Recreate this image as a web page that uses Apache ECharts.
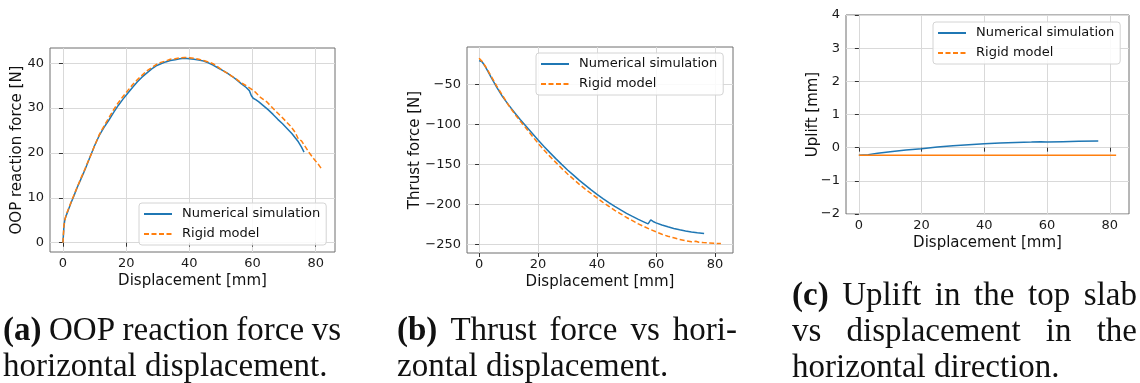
<!DOCTYPE html>
<html>
<head>
<meta charset="utf-8">
<script src="https://cdn.jsdelivr.net/npm/echarts@6/dist/echarts.min.js"></script>
<style>
html,body{margin:0;padding:0;background:#fff;}
#c{width:1140px;height:383px;}
</style>
</head>
<body>
<div id="c"></div>
<script>
// ---- Data ----
const seriesNames = ['Numerical simulation', 'Rigid model'];
const xTicks = [0, 20, 40, 60, 80];
const yTicksA = [0, 10, 20, 30, 40];
const yTicksB = [-250, -200, -150, -100, -50];

// (a) OOP reaction force [N] vs displacement [mm]
const numA_x = [0,0.3,0.6,1.0,1.6,2.5,3.5,4.5,5.5,6.5,7.5,8.5,10,11.5,13,14.5,16,17.5,19,20.5,22,23.5,25,26.5,28,29.5,31,32.5,34,35.5,37,38.5,40,41.5,43,44.5,46,47.5,49,50.5,52,53.5,55,56.5,58,59,59.6,60.2,61,62,63.5,65,66.5,68,69.5,71,72.5,73.5,74.5,75.5,76.3];
const numA_y = [0,3.5,5.2,6.0,7.1,8.8,10.5,12.3,13.9,15.5,17.2,19.0,21.6,23.9,25.7,27.3,29.0,30.6,32.0,33.3,34.6,35.8,36.9,37.8,38.7,39.4,39.9,40.3,40.6,40.8,41.0,41.1,41.0,40.9,40.7,40.5,40.1,39.6,39.0,38.4,37.8,37.1,36.3,35.4,34.6,33.9,32.8,32.2,31.9,31.4,30.5,29.6,28.6,27.5,26.5,25.4,24.3,23.4,22.5,21.3,20.2];
const rigA_x = [0,0.3,0.6,1,2,3,4,5,6,7,8,9,10,11.5,13,14.5,16,17.5,19,20.5,22,23.5,25,26.5,28,29.5,31,32.5,34,35.5,37,38.5,40,41.5,43,44.5,46,47.5,49,50.5,52,53.5,55,56.5,58,59.5,61,62.5,63.5,64.5,66,67.5,69,70.5,72,73.5,74.5,75.5,76.5,78,79.5,81,82];
const rigA_y = [0,3.8,5.0,6.2,8.0,9.8,11.5,13.2,14.9,16.5,18.2,19.8,21.6,24.1,26.0,27.8,29.6,31.2,32.6,33.9,35.2,36.3,37.3,38.3,39.0,39.7,40.2,40.5,40.9,41.0,41.2,41.3,41.2,41.1,40.9,40.6,40.3,39.9,39.2,38.4,37.8,37.1,36.4,35.6,35.0,34.3,33.5,32.4,31.9,31.4,30.3,29.2,28.2,27.1,26.0,24.6,23.1,22.7,21.6,20.0,18.6,17.3,16.3];

// (b) Thrust force [N] vs displacement [mm]
const numB_x = [0,0.5,1,2,3,4,5,6,7,8,9,10,12,14,16,18,20,22,24,26,28,30,32,34,36,38,40,42,44,46,48,50,52,54,56,57.3,57.8,58.2,58.6,59,60,62,64,66,68,70,72,74,76.3];
const numB_y = [-20,-19,-21.5,-27,-33.5,-40.5,-47,-53.5,-59.5,-65.5,-70.5,-75.5,-85,-94,-102.5,-111,-119.5,-127.5,-135.3,-142.8,-150,-157,-163.5,-170,-176,-182,-187.5,-192.8,-197.8,-202.6,-207,-211.3,-215.2,-218.9,-222.3,-224.5,-222,-219.5,-221,-221.5,-223.3,-225.9,-228.2,-230.2,-232,-233.5,-234.7,-235.7,-236.5];
const rigB_x = [0,0.5,1,2,3,4,5,6,7,8,9,10,12,14,16,18,20,22,24,26,28,30,32,34,36,38,40,42,44,46,48,50,52,54,56,58,60,62,64,66,68,70,72,73.5,74.5,76,78,80,82];
const rigB_y = [-17,-18.5,-21,-26.5,-32.5,-39,-45.5,-52,-58,-64,-70,-76,-86.5,-96,-105,-114.5,-123.5,-132,-140,-147.5,-155,-162,-168.5,-175,-181,-186.5,-192,-197.5,-202.5,-207.5,-212,-216.5,-220.5,-224.5,-228,-231.5,-234.5,-237.5,-240,-242,-244,-245.5,-247,-246.3,-247.5,-248,-248.5,-249,-249];

// (c) Uplift [mm] vs displacement [mm]
const numC_x = [0,3,6,10,15,20,25,30,35,40,45,50,55,58,58.6,60,65,70,76.3];
const numC_y = [-0.23,-0.21,-0.17,-0.12,-0.07,-0.03,0.02,0.06,0.09,0.12,0.14,0.155,0.17,0.18,0.16,0.17,0.18,0.19,0.2];
const rigC_x = [0,10,20,30,40,50,60,70,82];
const rigC_y = [-0.23,-0.23,-0.23,-0.23,-0.23,-0.23,-0.23,-0.23,-0.23];

// Caption text
const capA = ['(a) OOP reaction force vs', 'horizontal displacement.'];
const capB = ['(b) Thrust force vs hori-', 'zontal displacement.'];
const capC = ['(c) Uplift in the top slab', 'vs displacement in the', 'horizontal direction.'];

// ---- Build chart ----
const pair = (xs, ys) => xs.map((x, i) => [x, ys[i]]);
const BLUE = '#1f77b4', ORANGE = '#ff7f0e';
const TICKFONT = 'DejaVu Sans';
const minus = v => String(v).replace('-', '\u2212');

function xAxis(gi) {
  return {
    type: 'value', gridIndex: gi, min: -4.1, max: 86.1,
    name: 'Displacement [mm]', nameLocation: 'middle', nameGap: 22, nameMoveOverlap: false,
    nameTextStyle: {fontFamily: TICKFONT, fontSize: 15, color: '#111'},
    axisLine: {show: false},
    axisTick: {show: true, length: 4, lineStyle: {color: '#333'}, customValues: xTicks},
    axisLabel: {fontFamily: TICKFONT, fontSize: 13, color: '#1a1a1a', margin: 5, customValues: xTicks, formatter: minus},
    splitLine: {show: true, lineStyle: {color: '#d9d9d9', width: 1}}
  };
}
function yAxis(gi, name, min, max, ticks, gap) {
  const ax = {
    type: 'value', gridIndex: gi, min: min, max: max,
    name: name, nameLocation: 'middle', nameGap: gap, nameMoveOverlap: false,
    nameTextStyle: {fontFamily: TICKFONT, fontSize: 15, color: '#111'},
    axisLine: {show: false},
    axisTick: {show: true, length: 4, lineStyle: {color: '#333'}},
    axisLabel: {fontFamily: TICKFONT, fontSize: 13, color: '#1a1a1a', margin: 6, formatter: minus},
    splitLine: {show: true, lineStyle: {color: '#d9d9d9', width: 1}}
  };
  if (ticks) {
    ax.axisTick.customValues = ticks;
    ax.axisLabel.customValues = ticks;
  } else {
    ax.interval = 1;
  }
  return ax;
}
const gridStyle = {show: true, borderColor: '#6f6f6f', borderWidth: 1, backgroundColor: 'transparent', containLabel: false};
function legend(left, top) {
  return {
    data: seriesNames, orient: 'vertical', left: left, top: top,
    itemWidth: 28, itemHeight: 14, itemGap: 6,
    padding: [4, 6, 4, 4],
    backgroundColor: 'rgba(255,255,255,0.85)', borderColor: '#d4d4d4', borderWidth: 1, borderRadius: 3,
    selectedMode: false,
    itemStyle: {opacity: 0, color: 'rgba(0,0,0,0)', borderWidth: 0},
    textStyle: {fontFamily: TICKFONT, fontSize: 13, color: '#111', padding: [0, 0, 0, 5], lineHeight: 14}
  };
}
function line(name, data, gi, color, dashed) {
  return {
    name: name, type: 'line', xAxisIndex: gi, yAxisIndex: gi, data: data,
    symbol: 'none', showSymbol: false, smooth: false, z: dashed ? 3 : 2,
    lineStyle: {color: color, width: 1.5, type: dashed === true ? [5, 2.5] : 'solid'},
    itemStyle: {color: color}
  };
}

// ---- Caption layout (text set as real text; justified lines spread word by word) ----
const CAPFAMILY = '"Liberation Serif", "DejaVu Serif", serif';
const CAPSIZE = 33;
const mctx = document.createElement('canvas').getContext('2d');
function measure(word, bold) {
  mctx.font = (bold ? 'bold ' : '') + CAPSIZE + 'px ' + CAPFAMILY;
  return mctx.measureText(word).width;
}
function word(x, baseline, text, bold) {
  return {
    type: 'text', x: x, y: baseline - 25, silent: true,
    style: {text: text, fontFamily: CAPFAMILY, fontSize: CAPSIZE, fontWeight: bold ? 'bold' : 'normal', fill: '#111', align: 'left', verticalAlign: 'top'}
  };
}
function captionLine(text, x0, x1, baseline, justify) {
  const words = text.split(' ');
  const bold = words.map(w => /^\([abc]\)$/.test(w));
  const widths = words.map((w, i) => measure(w, bold[i]));
  const total = widths.reduce((s, w) => s + w, 0);
  const space = justify && words.length > 1 ? (x1 - x0 - total) / (words.length - 1) : measure(' ', false);
  const out = [];
  let x = x0;
  words.forEach((w, i) => { out.push(word(x, baseline, w, bold[i])); x += widths[i] + space; });
  return out;
}
const graphics = [].concat(
  captionLine(capA[0], 3, 341, 340, true),
  captionLine(capA[1], 3, 341, 376, false),
  captionLine(capB[0], 397, 737, 340, true),
  captionLine(capB[1], 397, 737, 376, false),
  captionLine(capC[0], 792, 1137, 305, true),
  captionLine(capC[1], 792, 1137, 341, true),
  captionLine(capC[2], 792, 1137, 377, false)
);

const option = {
  animation: false,
  backgroundColor: '#fff',
  grid: [
    Object.assign({left: 50, top: 48, width: 285, height: 204}, gridStyle),
    Object.assign({left: 467, top: 47, width: 266, height: 206}, gridStyle),
    Object.assign({left: 846, top: 15, width: 283, height: 199}, gridStyle)
  ],
  xAxis: [xAxis(0), xAxis(1), xAxis(2)],
  yAxis: [
    yAxis(0, 'OOP reaction force [N]', -2.07, 43.4, yTicksA, 25),
    yAxis(1, 'Thrust force [N]', -261, -3, yTicksB, 44),
    yAxis(2, 'Uplift [mm]', -2, 4, null, 25)
  ],
  legend: [legend(139, 203), legend(536, 53), legend(933, 22)],
  series: [
    line(seriesNames[0], pair(numA_x, numA_y), 0, BLUE, false),
    line(seriesNames[1], pair(rigA_x, rigA_y), 0, ORANGE, true),
    line(seriesNames[0], pair(numB_x, numB_y), 1, BLUE, false),
    line(seriesNames[1], pair(rigB_x, rigB_y), 1, ORANGE, true),
    line(seriesNames[0], pair(numC_x, numC_y), 2, BLUE, false),
    line(seriesNames[1], pair(rigC_x, rigC_y), 2, ORANGE, 'solid')
  ],
  graphic: graphics
};
const chart = echarts.init(document.getElementById('c'), null, {renderer: 'canvas'});
chart.setOption(option);
</script>
</body>
</html>
